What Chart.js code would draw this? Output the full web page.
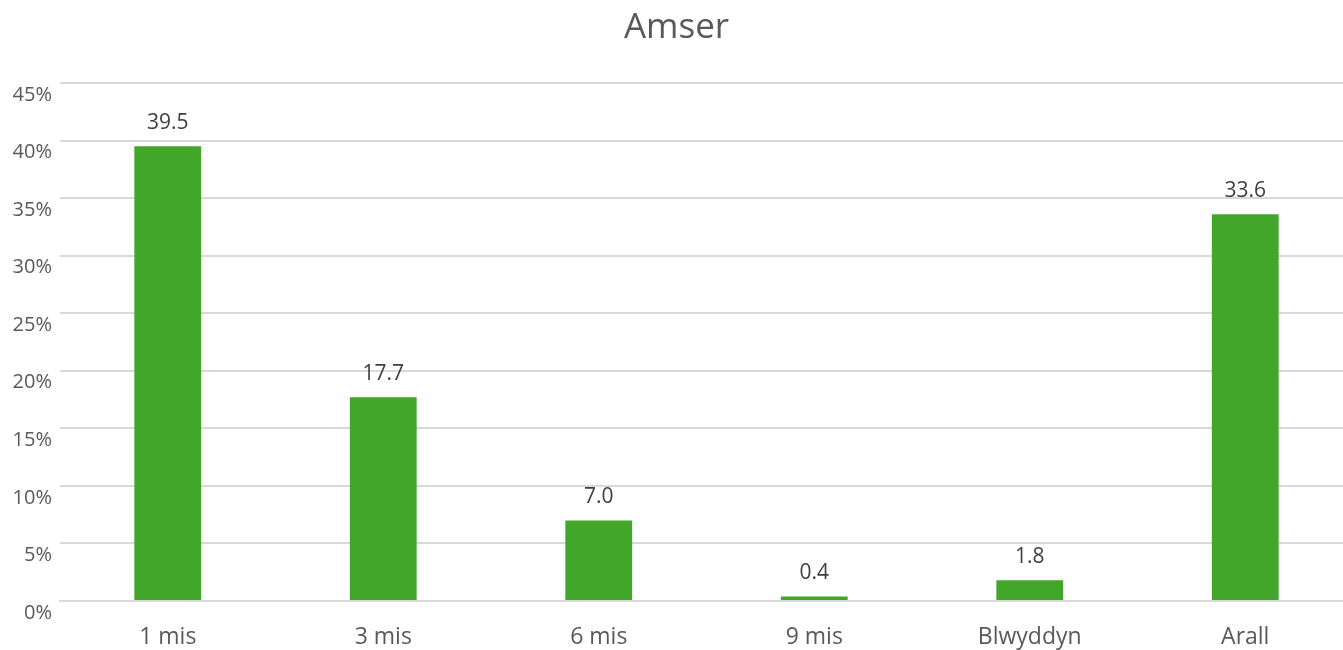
<!DOCTYPE html>
<html lang="cy">
<head>
    <meta charset="UTF-8">
    <title>Amser</title>
    <script src="https://cdn.jsdelivr.net/npm/chart.js"></script>
    <style>
        body {
            margin: 0;
            padding: 0;
            background-color: #ffffff;
            overflow: hidden;
        }

        /* a little wider than the window: the last category runs past the right edge */
        .chart-container {
            width: 1353px;
            height: 650px;
        }
    </style>
</head>
<body>
    <div class="chart-container">
        <canvas id="amserChart"></canvas>
    </div>

    <script>
        // Data
        const categories = ['1 mis', '3 mis', '6 mis', '9 mis', 'Blwyddyn', 'Arall'];
        const values = [39.5, 17.7, 7.0, 0.4, 1.8, 33.6];

        const textColor = '#595959';
        const fontFamily = "'Open Sans', 'Noto Sans', sans-serif";

        // Simple value labels above the bars
        const barLabels = {
            id: 'barLabels',
            afterDatasetsDraw(chart) {
                const ctx = chart.ctx;
                const meta = chart.getDatasetMeta(0);
                ctx.save();
                ctx.font = '21px ' + fontFamily;
                ctx.fillStyle = '#404040';
                ctx.textAlign = 'center';
                ctx.textBaseline = 'middle';
                meta.data.forEach((bar, i) => {
                    ctx.fillText(values[i].toFixed(1), bar.x, bar.y - 23);
                });
                ctx.restore();
            }
        };

        const ctx = document.getElementById('amserChart').getContext('2d');

        new Chart(ctx, {
            type: 'bar',
            data: {
                labels: categories,
                datasets: [{
                    data: values,
                    backgroundColor: '#41a62a',
                    barPercentage: 0.31,
                    categoryPercentage: 1.0
                }]
            },
            options: {
                responsive: true,
                maintainAspectRatio: false,
                animation: false,
                plugins: {
                    legend: { display: false },
                    tooltip: { enabled: false },
                    title: {
                        display: true,
                        text: 'Amser',
                        color: textColor,
                        font: { family: fontFamily, size: 35, weight: 'normal' },
                        padding: { top: 7, bottom: 34 }
                    }
                },
                scales: {
                    x: {
                        afterFit(scale) { scale.height = 49; },
                        grid: { display: false, drawTicks: false },
                        border: { color: '#d9d9d9', width: 2 },
                        ticks: {
                            color: textColor,
                            padding: 23,
                            font: { family: fontFamily, size: 23 }
                        }
                    },
                    y: {
                        min: 0,
                        max: 45,
                        afterFit(scale) { scale.width = 60; },
                        border: { display: false },
                        grid: { color: '#d9d9d9', lineWidth: 2, drawTicks: false },
                        ticks: {
                            stepSize: 5,
                            color: textColor,
                            padding: 8,
                            labelOffset: 12,
                            font: { family: fontFamily, size: 20 },
                            callback: v => v + '%'
                        }
                    }
                }
            },
            plugins: [barLabels]
        });
    </script>
</body>
</html>
